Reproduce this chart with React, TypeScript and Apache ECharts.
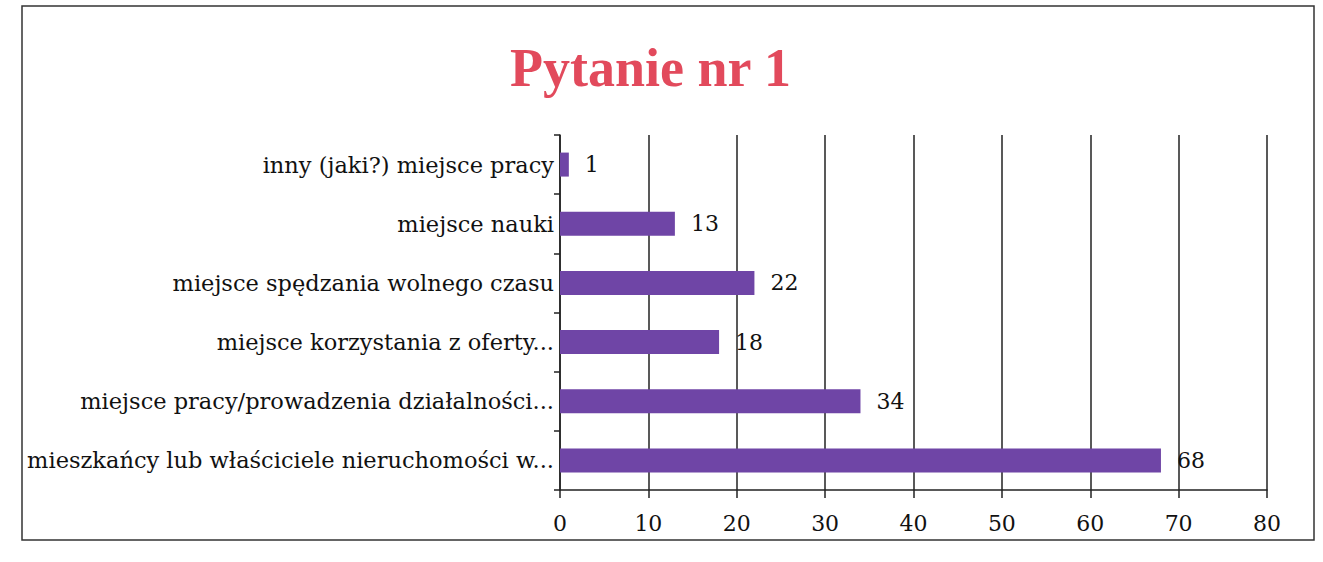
import React, { useEffect, useRef } from "react";
import * as echarts from "echarts";

const categories = [
  "mieszkańcy lub właściciele nieruchomości w...",
  "miejsce pracy/prowadzenia działalności...",
  "miejsce korzystania z oferty...",
  "miejsce spędzania wolnego czasu",
  "miejsce nauki",
  "inny (jaki?) miejsce pracy",
];
const values = [68, 34, 18, 22, 13, 1];
const xTicks = [0, 10, 20, 30, 40, 50, 60, 70, 80];

export default function App() {
  const ref = useRef<HTMLDivElement>(null);
  useEffect(() => {
    const chart = echarts.init(ref.current!, null, { renderer: "svg" });
    const font = "'DejaVu Serif', 'Liberation Serif', serif";
    chart.setOption({
      animation: false,
      backgroundColor: "#ffffff",
      title: {
        text: "Pytanie nr 1",
        left: 505,
        top: 36,
        textStyle: {
          color: "#e24a5c",
          fontSize: 54,
          fontWeight: "bold",
          fontFamily: "'Liberation Serif', 'Times New Roman', serif",
        },
      },
      graphic: [
        {
          type: "rect",
          shape: { x: 22, y: 6, width: 1292, height: 534 },
          style: { fill: "none", stroke: "#333", lineWidth: 1.5 },
          silent: true,
        },
      ],
      grid: { left: 560, right: 56, top: 135, bottom: 72 },
      xAxis: {
        type: "value",
        min: 0,
        max: 80,
        interval: 10,
        axisLine: { show: true, lineStyle: { color: "#222", width: 1.5 } },
        axisTick: { show: true, length: 8, lineStyle: { color: "#222", width: 1.5 } },
        splitLine: { show: true, lineStyle: { color: "#222", width: 1.5 } },
        axisLabel: {
          color: "#111",
          fontSize: 22,
          fontFamily: font,
          margin: 22,
          formatter: (v: number) => (xTicks.includes(v) ? String(v) : ""),
        },
      },
      yAxis: {
        type: "category",
        data: categories,
        axisLine: { show: true, lineStyle: { color: "#222", width: 1.5 } },
        axisTick: { show: true, length: 6, lineStyle: { color: "#222", width: 1.5 } },
        axisLabel: {
          color: "#111",
          fontSize: 22.5,
          fontFamily: font,
          margin: 6,
        },
      },
      series: [
        {
          type: "bar",
          data: values,
          barWidth: 24,
          itemStyle: { color: "#6f45a6" },
          label: {
            show: true,
            position: "right",
            distance: 16,
            color: "#111",
            fontSize: 22,
            fontFamily: font,
          },
        },
      ],
    });
    return () => chart.dispose();
  }, []);
  return (
    <div
      ref={ref}
      style={{ position: "fixed", left: 0, top: 0, width: 1323, height: 562 }}
    />
  );
}
